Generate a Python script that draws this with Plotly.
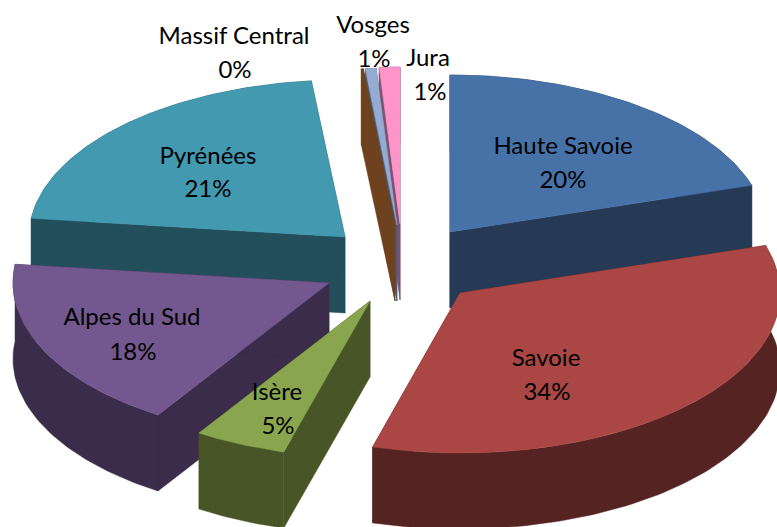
import math
import plotly.graph_objects as go

# --- data ---
categories = ["Haute Savoie", "Savoie", "Isère", "Alpes du Sud", "Pyrénées", "Massif Central", "Vosges", "Jura"]
values = [20.2, 34.2, 4.7, 17.8, 21.4, 0.1, 0.55, 1.05]

# --- styles and layout ---
top_colors = ["#4672A8", "#AA4745", "#89A64E", "#72588E", "#4299B0", "#6E421E", "#95ABD2", "#FF94C8"]
wall_colors = ["#243A55", "#552322", "#475527", "#3A2C4A", "#234F5C", "#6E421E", "#4A5E78", "#7F4F70"]
apex_x = [450, 460, 370, 329, 345, 395, 397, 400]
apex_y = [232, 293, 301, 283, 237, 225, 225, 224]
radius_x = [316, 320, 316, 316, 316, 316, 316, 316]
radius_y = [157, 160, 157, 157, 157, 157, 157, 157]
label_x = [563, 546, 277, 132, 208, 234, 373, 428]
label_y = [148, 360, 394, 319, 158, 38, 27, 60]
pct_x = [563, 547, 278, 133, 208, 235, 374, 430]
pct_y = [182, 394, 428, 354, 191, 72, 61, 94]
DEPTH = 76
draw_order = [4, 7, 6, 5, 0, 3, 2, 1]
FONT = "Lato"
FONT_SIZE = 24

total = sum(values)
fig = go.Figure()


def add_poly(xs, ys, color):
    fig.add_trace(go.Scatter(x=xs, y=ys, mode="lines", fill="toself", fillcolor=color,
                             line=dict(color=color, width=0.5), hoverinfo="skip", showlegend=False))


starts = []
acc = 0.0
for v in values:
    starts.append(acc)
    acc += v

for i in draw_order:
    a0 = starts[i] / total * 2 * math.pi
    a1 = (starts[i] + values[i]) / total * 2 * math.pi
    n = max(2, int((a1 - a0) / 0.02))
    angles = [a0 + (a1 - a0) * k / n for k in range(n + 1)]
    cx, cy = apex_x[i], apex_y[i]
    ax = [cx + radius_x[i] * math.sin(a) for a in angles]
    ay = [cy - radius_y[i] * math.cos(a) for a in angles]
    wall = wall_colors[i]
    # radial faces
    add_poly([cx, ax[0], ax[0], cx, cx], [cy, ay[0], ay[0] + DEPTH, cy + DEPTH, cy], wall)
    add_poly([cx, ax[-1], ax[-1], cx, cx], [cy, ay[-1], ay[-1] + DEPTH, cy + DEPTH, cy], wall)
    # outer face
    add_poly(ax + ax[::-1] + [ax[0]], ay + [y + DEPTH for y in ay[::-1]] + [ay[0]], wall)
    # top face
    add_poly([cx] + ax + [cx], [cy] + ay + [cy], top_colors[i])

pct_text = [f"{round(v / total * 100)}%" for v in values]
for xs, ys, txt in ((label_x, label_y, categories), (pct_x, pct_y, pct_text)):
    fig.add_trace(go.Scatter(x=xs, y=ys, mode="text", text=txt, textposition="middle center",
                             textfont=dict(family=FONT, size=FONT_SIZE, color="#000000"),
                             hoverinfo="skip", showlegend=False, cliponaxis=False))

fig.update_layout(
    width=777, height=527, margin=dict(l=0, r=0, t=0, b=0),
    paper_bgcolor="white", plot_bgcolor="white", showlegend=False,
    xaxis=dict(range=[0, 777], visible=False, domain=[0, 1], fixedrange=True),
    yaxis=dict(range=[527, 0], visible=False, domain=[0, 1], fixedrange=True),
)
fig.write_html("out.html", config={"displayModeBar": False},
               post_script="document.body.style.margin='0';document.body.style.overflow='hidden';")
